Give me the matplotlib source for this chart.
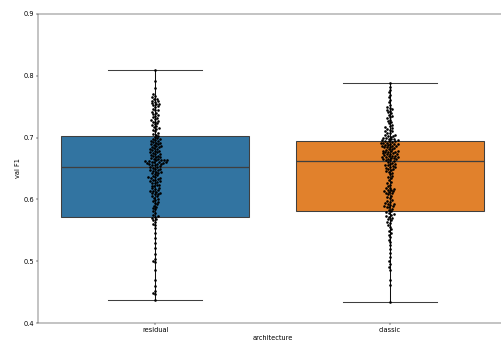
import numpy as np
import pandas as pd
import seaborn as sns
import matplotlib.pyplot as plt

# validation F1 per run
residual = [
    0.809, 0.791, 0.780, 0.770,
    0.768, 0.765, 0.763, 0.762, 0.760, 0.759, 0.758, 0.756, 0.755, 0.754, 0.752, 0.751,
    0.749, 0.747, 0.745, 0.744, 0.742, 0.740, 0.738, 0.737, 0.735, 0.733, 0.731, 0.730,
    0.728, 0.727, 0.726, 0.725, 0.723, 0.722, 0.720, 0.719, 0.717, 0.715, 0.714, 0.712,
    0.710, 0.708, 0.706, 0.705, 0.703, 0.701,
    0.699, 0.698, 0.697, 0.696, 0.695, 0.694, 0.693, 0.692, 0.691, 0.690, 0.689, 0.688,
    0.687, 0.686, 0.685, 0.684, 0.683, 0.682, 0.681, 0.680,
    0.679, 0.678, 0.677, 0.676, 0.675, 0.674, 0.673, 0.672, 0.671, 0.670, 0.669, 0.668,
    0.667, 0.666, 0.665, 0.664, 0.664, 0.663, 0.663, 0.662, 0.662, 0.661, 0.661, 0.660,
    0.660, 0.659, 0.659, 0.658, 0.658, 0.657, 0.656, 0.655, 0.654, 0.653, 0.652, 0.651,
    0.650, 0.649, 0.648, 0.647, 0.646, 0.645, 0.644, 0.643, 0.642, 0.641,
    0.639, 0.638, 0.637, 0.636, 0.635, 0.634, 0.633, 0.632, 0.631, 0.630, 0.629, 0.628,
    0.627, 0.626, 0.624, 0.623, 0.622, 0.621,
    0.619, 0.618, 0.617, 0.615, 0.614, 0.613, 0.612, 0.611, 0.610, 0.609, 0.608, 0.606,
    0.605, 0.603, 0.601,
    0.599, 0.597, 0.596, 0.594, 0.592, 0.590, 0.588, 0.586, 0.584, 0.581,
    0.578, 0.575, 0.573, 0.572, 0.570, 0.568, 0.566, 0.563,
    0.560, 0.558, 0.553, 0.546,
    0.538, 0.530, 0.521, 0.512, 0.503,
    0.500, 0.498, 0.486,
    0.470, 0.460, 0.452, 0.449, 0.447, 0.437,
]

classic = [
    0.789, 0.782, 0.777, 0.773, 0.769, 0.765, 0.761, 0.757, 0.753,
    0.750, 0.748, 0.746, 0.745, 0.743, 0.741, 0.739, 0.737, 0.735, 0.733, 0.731, 0.729,
    0.727, 0.725, 0.723, 0.721,
    0.719, 0.717, 0.716, 0.714, 0.713, 0.711, 0.710, 0.708, 0.707, 0.705, 0.704, 0.703,
    0.702, 0.701,
    0.700, 0.699, 0.698, 0.698, 0.697, 0.696, 0.696, 0.695, 0.694, 0.694, 0.693, 0.692,
    0.692, 0.691, 0.690, 0.690, 0.689, 0.688, 0.688, 0.687, 0.686, 0.686, 0.685, 0.684,
    0.684, 0.683, 0.682, 0.681,
    0.680, 0.679, 0.679, 0.678, 0.677, 0.677, 0.676, 0.675, 0.675, 0.674, 0.673, 0.673,
    0.672, 0.671, 0.671, 0.670, 0.669, 0.669, 0.668, 0.667, 0.667, 0.666, 0.665, 0.665,
    0.664, 0.663, 0.662, 0.661,
    0.659, 0.658, 0.657, 0.656, 0.655, 0.654, 0.653, 0.652, 0.651, 0.650, 0.649, 0.648,
    0.646, 0.645, 0.643, 0.641,
    0.638, 0.636, 0.634, 0.631, 0.628, 0.626, 0.624, 0.621,
    0.619, 0.618, 0.617, 0.616, 0.615, 0.614, 0.613, 0.612, 0.611, 0.610, 0.608, 0.606,
    0.604, 0.602,
    0.599, 0.597, 0.596, 0.594, 0.593, 0.592, 0.591, 0.590, 0.589, 0.588, 0.587, 0.585,
    0.583, 0.581,
    0.579, 0.578, 0.576, 0.575, 0.573, 0.572, 0.570, 0.568, 0.566, 0.564, 0.562, 0.559,
    0.556, 0.552,
    0.549, 0.546, 0.543, 0.539, 0.535, 0.531, 0.526, 0.520, 0.514, 0.507,
    0.500, 0.496, 0.490, 0.486, 0.470, 0.461, 0.434,
]

architectures = ['residual', 'classic']

# box summary as drawn in the reference (min, q1, median, q3, max)
box_min = [0.437, 0.434]
box_q1 = [0.571, 0.582]
box_med = [0.652, 0.662]
box_q3 = [0.702, 0.694]
box_max = [0.809, 0.789]

box_colors = ['#3274a1', '#e1812c']

df = pd.DataFrame({
    'architecture': ['residual'] * len(residual) + ['classic'] * len(classic),
    'val F1': residual + classic,
})

plt.rcParams['font.size'] = 11.5

fig = plt.figure(figsize=(12, 356 / 41.75), dpi=41.75)
ax = fig.add_axes([38 / 501, 33 / 356, 469 / 501, 309 / 356])

stats = []
for i, name in enumerate(architectures):
    stats.append({'label': name, 'whislo': box_min[i], 'q1': box_q1[i], 'med': box_med[i],
                  'q3': box_q3[i], 'whishi': box_max[i], 'fliers': []})

bp = ax.bxp(stats, positions=[0, 1], widths=0.8, patch_artist=True, showfliers=False,
            boxprops=dict(edgecolor='#3f3f3f', linewidth=1.8),
            medianprops=dict(color='#3f3f3f', linewidth=2.2),
            whiskerprops=dict(color='#3f3f3f', linewidth=1.8),
            capprops=dict(color='#3f3f3f', linewidth=1.8), capwidths=0.4)
for patch, c in zip(bp['boxes'], box_colors):
    patch.set_facecolor(c)

# thin line running through each swarm
ax.vlines([0, 1], box_min, box_max, color='k', linewidth=1.3, zorder=3)

sns.swarmplot(data=df, x='architecture', y='val F1', order=architectures,
              color='k', size=4.5, ax=ax, zorder=4)

ax.set_xlim(-0.5, 1.5)
ax.set_ylim(0.4, 0.9)
ax.set_yticks([0.4, 0.5, 0.6, 0.7, 0.8, 0.9])
ax.set_xlabel('architecture')
ax.set_ylabel('val F1')

fig.savefig('out.png', dpi=41.75)
